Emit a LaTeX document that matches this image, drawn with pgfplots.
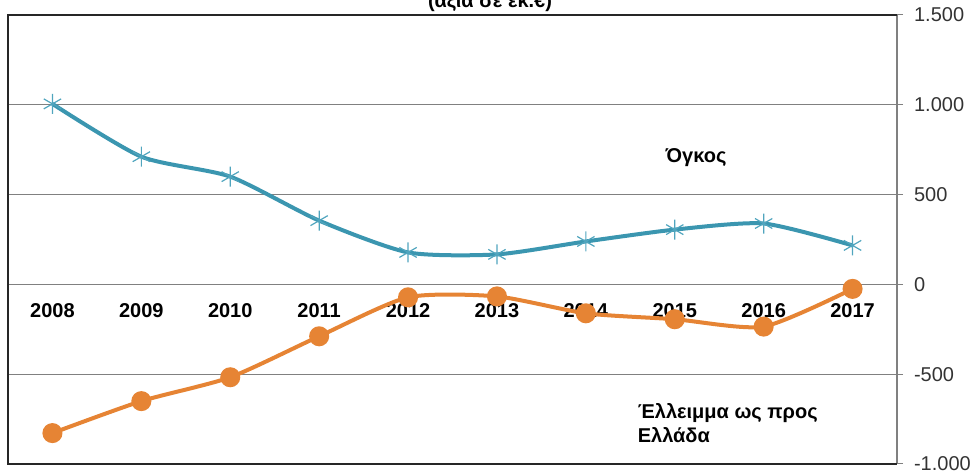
\documentclass[border=0pt]{standalone}
\usepackage{fontspec}
\setmainfont{Liberation Sans}
\usepackage{pgfplots}
\pgfplotsset{compat=1.18}
\definecolor{tealc}{RGB}{59,150,176}
\definecolor{tealm}{RGB}{80,165,190}
\definecolor{orgc}{RGB}{230,132,52}
\begin{document}
\begin{tikzpicture}[x=1pt,y=1pt]
\begin{axis}[
  at={(0,0)}, anchor=south west,
  scale only axis, width=444.5pt, height=224.5pt,
  xmin=-0.5, xmax=9.5, ymin=-1000, ymax=1500,
  axis x line*=middle, axis y line*=right,
  xtick={0,1,2,3,4,5,6,7,8,9},
  xticklabels={2008,2009,2010,2011,2012,2013,2014,2015,2016,2017},
  x tick label style={font=\bfseries, yshift=-3pt},
  xtick style={draw=none},
  extra x ticks={0.5,1.5,2.5,3.5,4.5,5.5,6.5,7.5,8.5},
  extra x tick labels={},
  extra x tick style={tick style={black!50, line width=0.5pt}, major tick length=4pt},
  ytick={-1000,-500,0,500,1000,1500},
  yticklabels={-1.000,-500,0,500,1.000,1.500},
  y tick label style={black!80, xshift=2pt},
  ymajorgrids, grid style={black!50, line width=0.6pt},
  axis line style={black!50, line width=0.6pt},
  ytick style={black!50, line width=0.5pt},
  tick align=outside, major tick length=3pt,
  clip=false,
]
\draw[black!85, line width=1pt] (rel axis cs:1,1) -- (rel axis cs:0,1) -- (rel axis cs:0,0) -- (rel axis cs:1,0);
\addplot[tealc, line width=2pt, smooth, tension=0.4, mark=asterisk, mark size=5pt,
  mark options={tealm, line width=0.6pt}] coordinates {
  (0,1005) (1,711) (2,600) (3,355) (4,178) (5,167) (6,239) (7,305) (8,339) (9,217)};
\addplot[orgc, line width=2pt, smooth, tension=0.4, mark=*, mark size=4pt,
  mark options={fill=orgc, draw=orgc}] coordinates {
  (0,-828) (1,-650) (2,-517) (3,-289) (4,-72) (5,-67) (6,-161) (7,-194) (8,-235) (9,-25)};
\node[font=\bfseries, anchor=center] at (axis cs:7.24,705) {Όγκος};
\node[font=\bfseries, anchor=west, align=left, inner sep=0pt] at (axis cs:6.58,-772) {Έλλειμμα ως προς\\Ελλάδα};
\end{axis}
\node[font=\bfseries, anchor=base] at (241pt,228pt) {(αξία σε εκ.€)};
\pgfresetboundingbox
\useasboundingbox (-4pt,-5pt) rectangle (483.5pt,232pt);
\end{tikzpicture}
\end{document}
